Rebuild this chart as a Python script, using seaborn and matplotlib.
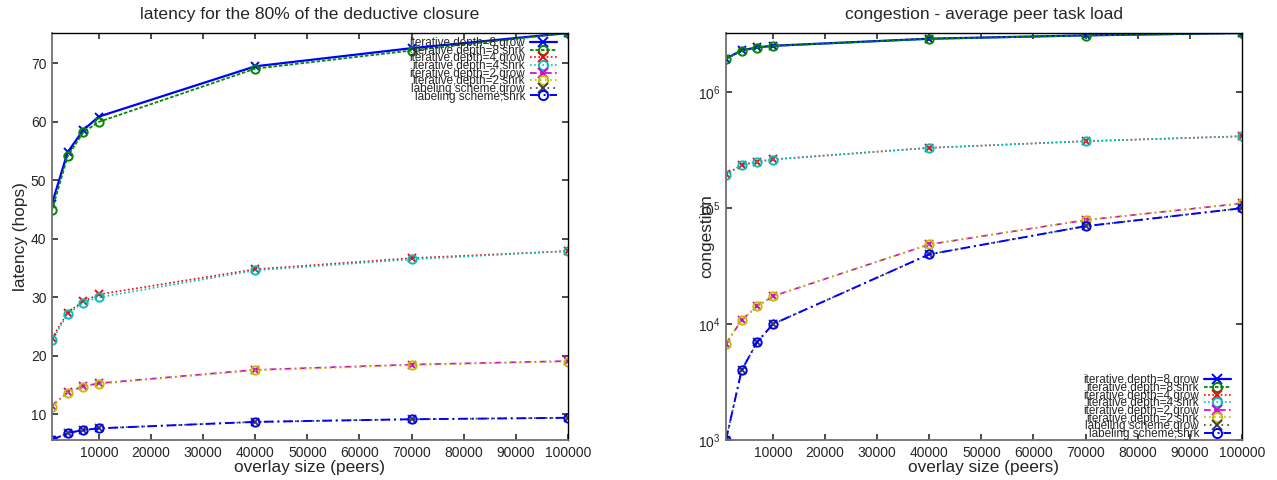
import matplotlib
matplotlib.use("Agg")
import matplotlib.pyplot as plt
import matplotlib.ticker as mticker
import seaborn as sns
import pandas as pd

sns.set_theme(style="ticks")
plt.rcParams['font.family'] = ['Liberation Sans', 'DejaVu Sans']

# overlay sizes (x axis)
overlay = [1000, 4000, 7000, 10000, 40000, 70000, 100000]

series_names = [
    'iterative,depth=8,grow', 'iterative,depth=8,shrk',
    'iterative,depth=4,grow', 'iterative,depth=4,shrk',
    'iterative,depth=2,grow', 'iterative,depth=2,shrk',
    'labeling scheme,grow', 'labeling scheme,shrk',
]

# latency (hops)
lat_d8_grow = [46.0, 54.8, 58.6, 60.9, 69.5, 72.6, 75.2]
lat_d8_shrk = [44.9, 54.1, 58.2, 60.0, 69.1, 72.2, 75.2]
lat_d4_grow = [23.0, 27.4, 29.3, 30.5, 34.8, 36.7, 37.9]
lat_d4_shrk = [22.7, 27.1, 29.1, 30.0, 34.6, 36.5, 37.9]
lat_d2_grow = [11.4, 13.8, 14.8, 15.3, 17.6, 18.5, 19.1]
lat_d2_shrk = [11.3, 13.7, 14.7, 15.2, 17.5, 18.4, 19.0]
lat_lab_grow = [5.6, 6.8, 7.3, 7.6, 8.7, 9.15, 9.4]
lat_lab_shrk = [5.6, 6.8, 7.3, 7.6, 8.7, 9.15, 9.4]

# congestion (average peer task load)
cong_d8_grow = [1.95e6, 2.30e6, 2.44e6, 2.52e6, 2.90e6, 3.10e6, 3.25e6]
cong_d8_shrk = [1.94e6, 2.29e6, 2.43e6, 2.51e6, 2.89e6, 3.09e6, 3.24e6]
cong_d4_grow = [1.96e5, 2.36e5, 2.52e5, 2.64e5, 3.32e5, 3.79e5, 4.18e5]
cong_d4_shrk = [1.95e5, 2.35e5, 2.51e5, 2.63e5, 3.31e5, 3.78e5, 4.17e5]
cong_d2_grow = [6.8e3, 1.08e4, 1.43e4, 1.74e4, 4.87e4, 7.9e4, 1.10e5]
cong_d2_shrk = [6.8e3, 1.08e4, 1.43e4, 1.74e4, 4.87e4, 7.9e4, 1.10e5]
cong_lab_grow = [1e3, 4e3, 7e3, 1e4, 4e4, 7e4, 1e5]
cong_lab_shrk = [1e3, 4e3, 7e3, 1e4, 4e4, 7e4, 1e5]

latency = [lat_d8_grow, lat_d8_shrk, lat_d4_grow, lat_d4_shrk,
           lat_d2_grow, lat_d2_shrk, lat_lab_grow, lat_lab_shrk]
congestion = [cong_d8_grow, cong_d8_shrk, cong_d4_grow, cong_d4_shrk,
              cong_d2_grow, cong_d2_shrk, cong_lab_grow, cong_lab_shrk]

# gnuplot-ish styles
styles = [
    dict(color='#0000ff', marker='x', ls='-', lw=1.6),
    dict(color='#008a00', marker='o', ls=(0, (2, 1)), lw=1.3),
    dict(color='#ff0000', marker='x', ls=(0, (1, 1.5)), lw=1.2),
    dict(color='#00c0c0', marker='o', ls=(0, (1, 1.5)), lw=1.2),
    dict(color='#d000d0', marker='x', ls=(0, (4, 2, 1, 2)), lw=1.2),
    dict(color='#c0c000', marker='o', ls=(0, (1, 2)), lw=1.2),
    dict(color='#404040', marker='x', ls=(0, (1, 2.5)), lw=1.2),
    dict(color='#0000ff', marker='o', ls=(0, (5, 2, 1, 2)), lw=1.4),
]

legend_kw = dict(frameon=False, markerfirst=False, fontsize=8.5,
                 labelspacing=-0.37, handlelength=2.3, handletextpad=0.4,
                 borderpad=0.2, markerscale=1.1)


def draw(ax, values, logy):
    for name, vals, st in zip(series_names, values, styles):
        df = pd.DataFrame({'x': overlay, 'y': vals})
        sns.lineplot(data=df, x='x', y='y', ax=ax, color=st['color'],
                     marker=st['marker'], linestyle=st['ls'], linewidth=st['lw'],
                     markersize=6, markerfacecolor='none',
                     markeredgecolor=st['color'], markeredgewidth=1.4,
                     label=name, legend=False)
    allv = [v for vals in values for v in vals]
    if logy:
        ax.set_yscale('log')
        ax.yaxis.set_minor_locator(mticker.NullLocator())
    ax.set_ylim(min(allv), max(allv))
    ax.set_xlim(overlay[0], overlay[-1])
    ax.set_xticks(range(10000, 100001, 10000))
    ax.tick_params(direction='in', length=4, top=True, right=True,
                   labelsize=10, color='#333333', pad=4)
    for side in ['left', 'bottom']:
        ax.spines[side].set_color('#707070')
        ax.spines[side].set_linewidth(1.3)
    for side in ['top', 'right']:
        ax.spines[side].set_color('black')
        ax.spines[side].set_linewidth(1.0)
    ax.set_xlabel('overlay size (peers)', fontsize=12.4, labelpad=0)


fig = plt.figure(figsize=(12.77, 4.8), dpi=100)
ax1 = fig.add_axes([0.0407, 0.0833, 0.404, 0.848])
ax2 = fig.add_axes([0.5685, 0.0833, 0.404, 0.848])

draw(ax1, latency, False)
ax1.set_yticks(range(10, 71, 10))
ax1.set_ylabel('latency (hops)', fontsize=12.4, labelpad=2)
ax1.set_title('latency for the 80% of the deductive closure', fontsize=12.6, pad=10)
leg1 = ax1.legend(loc='upper right', bbox_to_anchor=(0.995, 1.01), **legend_kw)

draw(ax2, congestion, True)
ax2.set_ylabel('congestion', fontsize=12.4, labelpad=-12)
ax2.set_title('congestion - average peer task load', fontsize=12.6, pad=10)
leg2 = ax2.legend(loc='lower right', bbox_to_anchor=(0.995, -0.02), **legend_kw)

fig.savefig('out.png', dpi=100)
